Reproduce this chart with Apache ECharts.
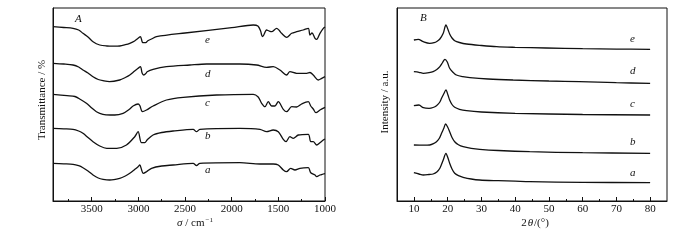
<!DOCTYPE html>
<html>
<head>
<meta charset="utf-8">
<script src="https://cdn.jsdelivr.net/npm/echarts@6/dist/echarts.min.js"></script>
<style>
  html, body { margin: 0; padding: 0; background: #fff; }
  #chart { width: 700px; height: 241px; }
</style>
</head>
<body>
<div id="chart"></div>
<script>
// FTIR spectra (wavenumber cm-1, transmittance offset a.u.)
const ftirA = [[3915,37.7],[3800,37.2],[3700,36.7],[3640,35.3],[3594,33.3],[3540,30],[3486,26],[3430,23],[3378,21.7],[3307,21],[3200,22.7],[3140,25],[3092,27.7],[3040,31.5],[3003,34.3],[2985,36],[2965,31],[2949,27.7],[2913,29.3],[2859,32.7],[2750,35],[2628,36],[2413,37.7],[2377,35.5],[2341,37.7],[1912,38.3],[1697,37],[1555,37],[1501,36],[1447,31],[1411,29.3],[1368,32.7],[1322,31],[1268,32.7],[1179,33.3],[1153,28.3],[1107,26],[1089,24.3],[1054,26],[1018,27],[1000,27.5]];
const ftirB = [[3915,72.7],[3800,72.2],[3700,71.7],[3640,70],[3594,67.7],[3540,63.5],[3486,59.3],[3414,55],[3339,52.7],[3232,52.7],[3128,56],[3039,64.3],[3003,69.3],[2967,58.3],[2931,58.3],[2907,61],[2843,66],[2750,68.5],[2628,70],[2413,71.7],[2377,69.3],[2341,71.7],[1912,72.7],[1697,71.7],[1626,69.3],[1555,71],[1501,69.3],[1447,61.7],[1418,59.3],[1376,64.3],[1340,62.7],[1286,66],[1179,66.7],[1153,59.3],[1126,59.3],[1089,56],[1054,58.3],[1018,61],[1000,62]];
const ftirC = [[3915,106.7],[3765,105.3],[3680,104.5],[3620,101.5],[3557,97.7],[3500,93],[3450,89.3],[3380,86.6],[3300,86],[3253,86],[3164,87.7],[3100,91.5],[3057,95],[3003,97],[2985,95.5],[2956,89.3],[2913,91],[2842,95],[2699,101],[2520,103.7],[2162,106],[1769,106.7],[1716,104],[1679,97.7],[1644,94.3],[1608,99.3],[1572,95],[1537,95],[1501,99.3],[1447,91.7],[1411,89.3],[1357,94.3],[1304,94],[1250,97],[1179,99.3],[1153,95],[1126,92],[1097,88.3],[1054,91],[1000,93.7]];
const ftirD = [[3915,137.7],[3800,137],[3700,136],[3640,134],[3594,131],[3540,128],[3486,124.3],[3430,121.5],[3380,120.3],[3310,119.3],[3200,121],[3140,123.5],[3092,126],[3040,130],[3003,132.7],[2978,134.3],[2960,128],[2943,126],[2920,127.5],[2906,129.3],[2842,131.7],[2700,134.3],[2448,136],[2269,137],[1912,137],[1733,136],[1626,133.7],[1555,134.3],[1483,131],[1411,126],[1376,129.3],[1304,127.7],[1196,127.7],[1161,128.5],[1126,126],[1072,121],[1035,122.7],[1000,124.3]];
const ftirE = [[3915,174.3],[3800,173.5],[3700,172.7],[3640,171],[3594,167.7],[3540,164],[3486,159.3],[3414,156],[3339,155],[3260,154.8],[3200,155],[3140,156.3],[3092,157.7],[3040,160],[3003,162.7],[2978,164.3],[2962,160],[2953,158.3],[2921,158.3],[2899,160.3],[2860,162],[2806,164.3],[2500,168],[2000,173.3],[1769,176],[1719,175],[1690,170],[1679,166],[1668,164.3],[1626,171],[1600,170],[1572,169.3],[1518,172.7],[1490,170.5],[1465,167.7],[1411,163.7],[1357,167.7],[1304,169.3],[1233,171],[1179,172.7],[1161,166],[1139,168],[1107,162.7],[1089,161.7],[1054,167.7],[1018,172.7],[1000,174]];

// XRD patterns (2theta deg, intensity offset a.u.)
const xrdA = [[10,28.3],[11.5,27],[12.8,26],[14.5,26.5],[15.7,27],[16.8,29],[17.7,32.7],[18.7,41],[19.5,47.7],[20.1,43],[20.6,37.7],[21.3,32],[22.1,27.7],[23.2,25.3],[24.6,23.7],[27,22],[29.5,21],[35,20.3],[40,19.8],[44.3,19.3],[60,18.7],[80,18.3]];
const xrdB = [[10,56],[12.8,55.8],[14.7,56],[15.8,57.3],[16.7,59.3],[17.5,62.5],[18.2,67.7],[18.9,73],[19.4,77],[20,74],[20.6,69.3],[21.3,63.5],[22.1,59.3],[23.2,56.3],[24.6,54.3],[27,52.7],[29.5,51.7],[35,50.5],[44.3,49.3],[60,48.3],[80,47.7]];
const xrdC = [[10,95.3],[11.5,96],[12.8,93.3],[14.5,92.7],[15.7,93.5],[16.7,95.3],[17.6,98.5],[18.2,102.7],[18.9,107.5],[19.5,111],[20.1,106],[20.6,101],[21.3,96.5],[22.1,93.7],[23.5,91.7],[25.6,90.3],[30,89],[40,87.7],[60,86.5],[80,86]];
const xrdD = [[10,129.3],[11.5,128.7],[12.8,127.7],[14.5,128.3],[15.7,129.3],[16.8,131.5],[17.7,134.3],[18.5,138.5],[19.2,141.7],[19.9,139],[20.6,132.7],[21.5,129],[22.6,126],[24.5,124.3],[26.6,123.3],[32,122],[39.4,121],[50,120],[59.1,119.3],[70,118.3],[80,117.7]];
const xrdE = [[10,161],[11.3,161.7],[12.8,159.3],[14.7,157.7],[16,158.3],[16.9,159.8],[17.7,162],[18.7,167.7],[19.5,176],[20.1,171.5],[20.6,167],[21.3,163],[22.1,160.3],[23.5,158.5],[25.6,157],[30,155.5],[34.5,154.3],[40,153.7],[49.2,153],[60,152.3],[70,151.9],[80,151.7]];

const wnMajor = [1000, 1500, 2000, 2500, 3000, 3500];
const wnMinor = [1250, 1750, 2250, 2750, 3250, 3750];
const ttMajor = [10, 20, 30, 40, 50, 60, 70, 80];
const ttMinor = [15, 25, 35, 45, 55, 65, 75];
const curveNames = ['a', 'b', 'c', 'd', 'e'];

const FONT = '"Times New Roman", "Liberation Serif", serif';
const INK = '#111';

const chart = echarts.init(document.getElementById('chart'), null, { renderer: 'canvas' });

function lineSeries(data, xi, yi) {
  return {
    type: 'line',
    data: data,
    xAxisIndex: xi,
    yAxisIndex: yi,
    smooth: 0.3,
    symbol: 'none',
    silent: true,
    animation: false,
    lineStyle: { color: INK, width: 1.3 }
  };
}

function mainX(grid, min, max, inverse, ticks) {
  return {
    type: 'value', gridIndex: grid, min: min, max: max, inverse: inverse, position: 'bottom',
    axisLine: { show: true, lineStyle: { color: INK, width: 1 } },
    axisTick: { show: true, inside: true, length: 4, customValues: ticks, lineStyle: { color: INK } },
    axisLabel: {
      show: true, customValues: ticks, margin: 3, color: INK, fontFamily: FONT, fontSize: 11,
      formatter: function (v) { return String(v); }
    },
    splitLine: { show: false }
  };
}

function minorX(grid, min, max, inverse, ticks) {
  return {
    type: 'value', gridIndex: grid, min: min, max: max, inverse: inverse, position: 'bottom',
    axisLine: { show: false },
    axisTick: { show: true, inside: true, length: 2, customValues: ticks, lineStyle: { color: INK } },
    axisLabel: { show: false },
    splitLine: { show: false }
  };
}

function plainY(grid) {
  return {
    type: 'value', gridIndex: grid, min: 0, max: 193,
    axisLine: { show: true, lineStyle: { color: INK } },
    axisTick: { show: false },
    axisLabel: { show: false },
    splitLine: { show: false }
  };
}

const panelText = [];
const leftLabelY = [172, 138, 105, 75.5, 41.5];
const rightLabelY = [175, 144, 106, 73, 41];
curveNames.forEach(function (n, i) {
  panelText.push({ type: 'text', left: 205, top: leftLabelY[i] - 7,
    style: { text: n, font: 'italic 11px ' + FONT, fill: INK } });
  panelText.push({ type: 'text', left: 630, top: rightLabelY[i] - 7,
    style: { text: n, font: 'italic 11px ' + FONT, fill: INK } });
});

chart.setOption({
  backgroundColor: '#fff',
  animation: false,
  grid: [
    { left: 53, top: 8, width: 272, height: 193, show: true, borderColor: INK, borderWidth: 1 },
    { left: 397, top: 8, width: 270, height: 193, show: true, borderColor: INK, borderWidth: 1 }
  ],
  xAxis: [
    mainX(0, 1000, 3915, true, wnMajor),
    minorX(0, 1000, 3915, true, wnMinor),
    mainX(1, 5, 85, false, ttMajor),
    minorX(1, 5, 85, false, ttMinor)
  ],
  yAxis: [plainY(0), plainY(1)],
  graphic: panelText.concat([
    { type: 'text', left: 75, top: 14, style: { text: 'A', font: 'italic 11px ' + FONT, fill: INK } },
    { type: 'text', left: 420, top: 13, style: { text: 'B', font: 'italic 11px ' + FONT, fill: INK } },
    { type: 'text', x: 42, y: 100, rotation: Math.PI / 2,
      style: { text: 'Transmittance / %', font: '11px ' + FONT, fill: INK, align: 'center', verticalAlign: 'middle' } },
    { type: 'text', x: 385, y: 102, rotation: Math.PI / 2,
      style: { text: 'Intensity / a.u.', font: '11px ' + FONT, fill: INK, align: 'center', verticalAlign: 'middle' } },
    { type: 'text', x: 195, y: 223,
      style: {
        text: '{i|σ} / cm{s|−1}', align: 'center', verticalAlign: 'middle', fill: INK,
        font: '11px ' + FONT,
        rich: {
          i: { fontFamily: FONT, fontSize: 11, fontStyle: 'italic', fill: INK },
          s: { fontFamily: FONT, fontSize: 7, fill: INK, padding: [0, 0, 6, 1] }
        }
      } },
    { type: 'text', x: 535, y: 223,
      style: {
        text: '2{i|θ}/(°)', align: 'center', verticalAlign: 'middle', fill: INK,
        font: '11px ' + FONT,
        rich: {
          i: { fontFamily: FONT, fontSize: 11, fontStyle: 'italic', fill: INK, padding: [0, 1, 0, 1] }
        }
      } }
  ]),
  series: [
    lineSeries(ftirA, 0, 0), lineSeries(ftirB, 0, 0), lineSeries(ftirC, 0, 0),
    lineSeries(ftirD, 0, 0), lineSeries(ftirE, 0, 0),
    lineSeries(xrdA, 2, 1), lineSeries(xrdB, 2, 1), lineSeries(xrdC, 2, 1),
    lineSeries(xrdD, 2, 1), lineSeries(xrdE, 2, 1)
  ]
});
</script>
</body>
</html>
